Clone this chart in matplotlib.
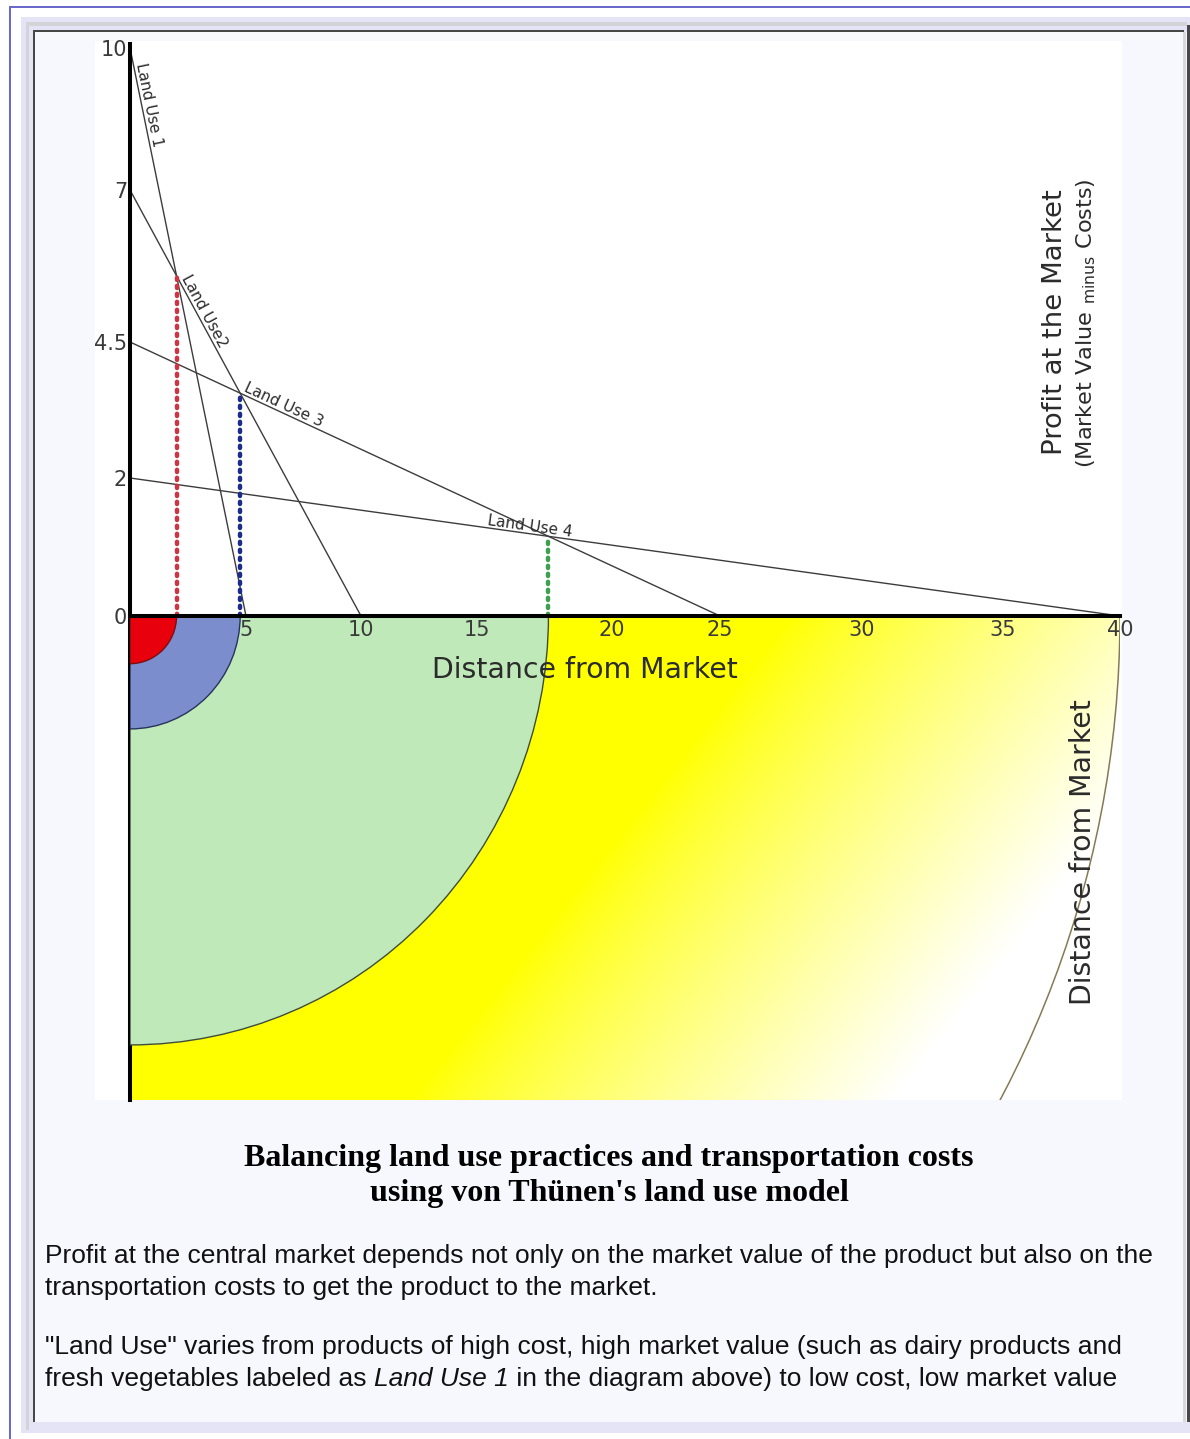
import numpy as np
import matplotlib
matplotlib.use("Agg")
import matplotlib.pyplot as plt
from matplotlib.patches import Rectangle, Wedge

# ---------------- data ----------------
land_use_labels = ["Land Use 1", "Land Use2", "Land Use 3", "Land Use 4"]
profit_at_market = [10, 7, 4.5, 2]          # profit at distance 0
zero_profit_distance = [5, 10, 25, 40]      # distance where profit reaches 0
x_tick_values = [5, 10, 15, 20, 25, 30, 35, 40]
x_tick_labels = ["5", "10", "15", "20", "25", "30", "35", "40"]
y_tick_values = [0, 2, 4.5, 7, 10]
y_tick_labels = ["0", "2", "4.5", "7", "10"]

title_lines = ["Balancing land use practices and transportation costs",
               "using von Thünen's land use model"]
para_line1 = "Profit at the central market depends not only on the market value of the product but also on the"
para_line2 = "transportation costs to get the product to the market."
para_line3 = "\"Land Use\" varies from products of high cost, high market value (such as dairy products and"
para_line4_a = "fresh vegetables labeled as "
para_line4_b = "Land Use 1"
para_line4_c = " in the diagram above) to low cost, low market value"

# ---------------- styles / calibration of the hand-drawn axes ----------------
X_CAL_VAL = [0, 5, 10, 15, 20, 25, 30, 35, 40]
X_CAL_PX = [0, 116, 231, 347, 482, 590, 732, 873, 990]
Y_CAL_VAL = [0, 2, 4.5, 7, 10]
Y_CAL_PX = [0, 138, 274, 426, 568]
zone_colors = ["#e8000d", "#7b8dcc", "#bfe9b8"]
zone_edges = ["#7a1010", "#28335e", "#3d4d3d"]
dot_colors = ["#d23340", "#1d2b8c", "#3f9f50"]
label_start = [0.03, 0.21, 0.19, 0.36]
V_STRETCH = 1.025

W, H, DPI = 1190, 1439, 100


def piecewise(xp, fp):
    xp = np.asarray(xp, float)
    fp = np.asarray(fp, float)
    s0 = (fp[1] - fp[0]) / (xp[1] - xp[0])
    s1 = (fp[-1] - fp[-2]) / (xp[-1] - xp[-2])

    def f(v):
        v = np.asarray(v, dtype=float)
        out = np.interp(v, xp, fp)
        out = np.where(v < xp[0], fp[0] + (v - xp[0]) * s0, out)
        out = np.where(v > xp[-1], fp[-1] + (v - xp[-1]) * s1, out)
        return out
    return f


fx = piecewise(X_CAL_VAL, X_CAL_PX)
fx_inv = piecewise(X_CAL_PX, X_CAL_VAL)
fy = piecewise(Y_CAL_VAL, Y_CAL_PX)
fy_inv = piecewise(Y_CAL_PX, Y_CAL_VAL)

fig = plt.figure(figsize=(W / DPI, H / DPI), dpi=DPI)
fig.patch.set_facecolor("white")


def frac_rect(x, y, w, h):
    return [x / W, 1 - (y + h) / H, w / W, h / H]


def rect(x, y, w, h, color, z=-10):
    l, b, ww, hh = frac_rect(x, y, w, h)
    fig.add_artist(Rectangle((l, b), ww, hh, transform=fig.transFigure,
                             facecolor=color, edgecolor="none", zorder=z))


def fpos(x, y):
    return x / W, 1 - y / H


# ---------------- page frame ----------------
rect(9, 6, 1181, 2, "#6a6acd")
rect(9, 6, 2, 1433, "#6a6acd")
rect(21, 17, 1169, 1416, "#e4e4f6")
rect(26, 22, 1161, 4, "#d3d3d8")
rect(26, 22, 3, 1408, "#d3d3d8")
rect(33, 30, 1151, 2, "#474747")
rect(33, 30, 2, 1392, "#474747")
rect(1187, 25, 3, 1397, "#474747")
rect(35, 32, 1152, 1390, "#f7f8fe")
rect(1183, 32, 3, 1390, "#d8d8dc")
rect(95, 41, 1027, 1059, "white")

# ---------------- map (lower part) ----------------
axm = fig.add_axes(frac_rect(130, 616, 990, 484), zorder=0)
A = fy(profit_at_market)
B = fx(zero_profit_distance)
cross_X, cross_Y = [], []
for i in range(len(A) - 1):
    X = (A[i] - A[i + 1]) / (A[i] / B[i] - A[i + 1] / B[i + 1])
    cross_X.append(X)
    cross_Y.append(A[i] * (1 - X / B[i]))
radii = cross_X + [B[-1]]

ybot = -484 / V_STRETCH
axm.set_xlim(0, 990)
axm.set_ylim(ybot, 0)
axm.set_facecolor("none")
for s in ["top", "right", "bottom"]:
    axm.spines[s].set_visible(False)
axm.spines["left"].set_linewidth(2.9)
axm.spines["left"].set_color("black")
axm.set_xticks([])
axm.set_yticks([])

u = np.linspace(0, 990, 600)
v = np.linspace(0, 484, 300)
U, Vv = np.meshgrid(u, v)
t = (470 * U + 370 * Vv) / 598.0
f = np.clip((t - 520) / 380, 0, 1) ** 0.85
img = np.dstack([np.ones_like(f), np.ones_like(f), f])
outer = Wedge((0, 0), radii[-1], 270, 360, facecolor="none",
              edgecolor="#857a55", lw=1.1, zorder=2)
axm.add_patch(outer)
im = axm.imshow(img, extent=(0, 990, ybot, 0), origin="upper",
                aspect="auto", interpolation="bilinear", zorder=1)
im.set_clip_path(outer)
for i in range(len(radii) - 2, -1, -1):
    axm.add_patch(Wedge((0, 0), radii[i], 270, 360, facecolor=zone_colors[i],
                        edgecolor=zone_edges[i], lw=1.0, zorder=3 + (3 - i)))

# ---------------- profit chart (upper part) ----------------
ax = fig.add_axes(frac_rect(130, 44, 990, 572), zorder=1)
ax.set_xscale("function", functions=(fx, fx_inv))
ax.set_yscale("function", functions=(fy, fy_inv))
ax.set_xlim(0, 40)
ax.set_ylim(0, float(fy_inv(572)))
ax.set_facecolor("none")
for s in ["top", "right"]:
    ax.spines[s].set_visible(False)
for s in ["left", "bottom"]:
    ax.spines[s].set_linewidth(2.9)
    ax.spines[s].set_color("black")
    ax.spines[s].set_zorder(5)
ax.set_xticks(x_tick_values)
ax.set_xticklabels(x_tick_labels)
ax.set_yticks(y_tick_values)
ax.set_yticklabels(y_tick_labels)
ax.tick_params(length=0, labelsize=15, labelcolor="#3a3a3a")
ax.tick_params(axis="x", pad=3)
ax.tick_params(axis="y", pad=2)

for i in range(len(profit_at_market)):
    ax.plot([0, zero_profit_distance[i]], [profit_at_market[i], 0],
            color="#3c3c3c", lw=1.0, zorder=2, solid_capstyle="butt")

for i in range(len(cross_X)):
    xs = float(fx_inv(cross_X[i]))
    ys = float(fy_inv(cross_Y[i]))
    ax.plot([xs, xs], [0, ys], color=dot_colors[i], lw=3.2,
            linestyle=(0, (0.5, 1.3)), dash_capstyle="round", zorder=3)

for i, lab in enumerate(land_use_labels):
    s = label_start[i]
    Xp = B[i] * s
    Yp = A[i] * (1 - s)
    ang = -np.degrees(np.arctan2(A[i], B[i]))
    ax.text(float(fx_inv(Xp)), float(fy_inv(Yp)), lab, rotation=ang,
            rotation_mode="anchor", ha="left", va="bottom", fontsize=11,
            color="#2a2a2a", zorder=4)

renderer = fig.canvas.get_renderer()


def fit_width(txt, target):
    bb = txt.get_window_extent(renderer)
    txt.set_fontsize(txt.get_fontsize() * target / bb.width)


# axis titles
t1 = fig.text(*fpos(585, 670), "Distance from Market", ha="center", va="center",
              fontsize=20, color="#2b2b2b", zorder=6)
fit_width(t1, 306)

t2 = fig.text(*fpos(1055, 322), "Profit at the Market", ha="center", va="center",
              fontsize=20, color="#2b2b2b", zorder=6)
fit_width(t2, 265)
t2.set_rotation(90)

t3 = fig.text(*fpos(1086, 323), r"(Market Value $_{\mathrm{minus}}$ Costs)",
              ha="center", va="center", fontsize=18, color="#2b2b2b", zorder=6)
fit_width(t3, 290)
t3.set_rotation(90)

t4 = fig.text(*fpos(1083, 852), "Distance from Market", ha="center", va="center",
              fontsize=20, color="#2b2b2b", zorder=6)
fit_width(t4, 305)
t4.set_rotation(90)

# title
tt1 = fig.text(*fpos(609, 1166), title_lines[0], ha="center", va="baseline",
               fontsize=20, fontweight="bold", family="Liberation Serif",
               color="black", zorder=6)
fit_width(tt1, 728)
tt2 = fig.text(*fpos(609, 1201), title_lines[1], ha="center", va="baseline",
               fontsize=tt1.get_fontsize(), fontweight="bold",
               family="Liberation Serif", color="black", zorder=6)

# paragraph
p1 = fig.text(*fpos(45, 1263), para_line1, ha="left", va="baseline",
              fontsize=17, family="Liberation Sans", color="#111111", zorder=6)
fit_width(p1, 1107)
pfs = p1.get_fontsize()
fig.text(*fpos(45, 1295), para_line2, ha="left", va="baseline", fontsize=pfs,
         family="Liberation Sans", color="#111111", zorder=6)
fig.text(*fpos(45, 1354), para_line3, ha="left", va="baseline", fontsize=pfs,
         family="Liberation Sans", color="#111111", zorder=6)
xcur = 45
for piece, style in [(para_line4_a, "normal"), (para_line4_b, "italic"),
                     (para_line4_c, "normal")]:
    tp = fig.text(*fpos(xcur, 1386), piece, ha="left", va="baseline",
                  fontsize=pfs, family="Liberation Sans", style=style,
                  color="#111111", zorder=6)
    bb = tp.get_window_extent(renderer)
    xcur += bb.width

fig.savefig("out.png", dpi=DPI)
